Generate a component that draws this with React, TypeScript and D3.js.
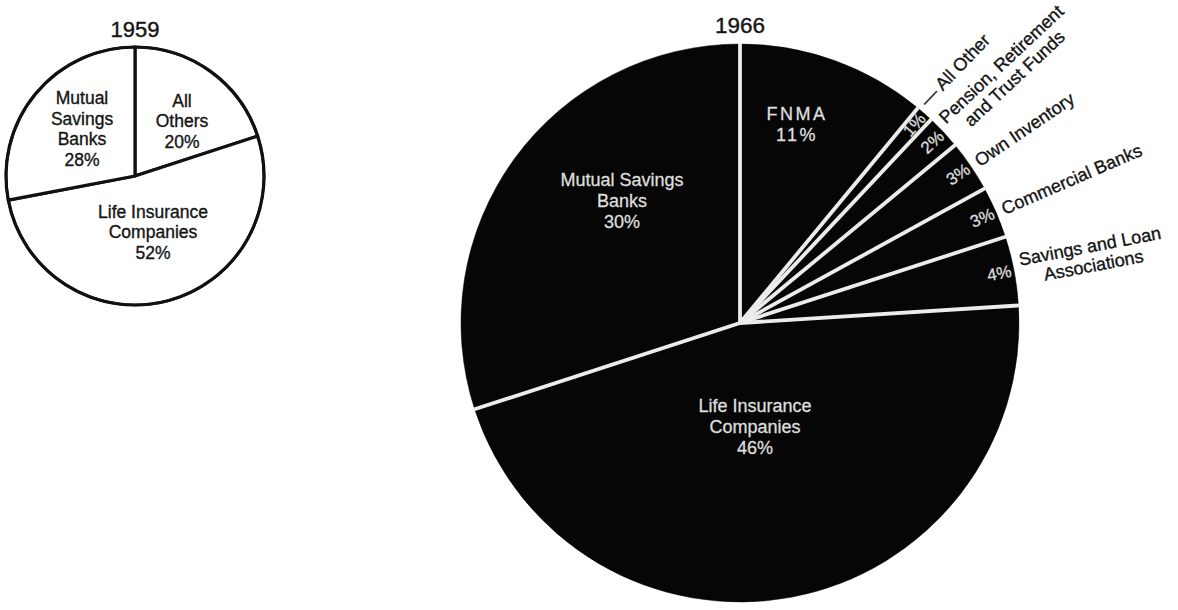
import React, { useEffect, useRef } from 'react';
import * as d3 from 'd3';

const W = 1178;
const H = 610;

// 1959 mortgage holders (clockwise from 12 o'clock)
const holders1959 = ['All Others', 'Life Insurance Companies', 'Mutual Savings Banks'];
const shares1959 = [20, 52, 28];
const labelLines1959 = [['All', 'Others'], ['Life Insurance', 'Companies'], ['Mutual', 'Savings', 'Banks']];

// 1966 mortgage holders (clockwise from 12 o'clock)
const holders1966 = [
  'FNMA',
  'All Other',
  'Pension, Retirement and Trust Funds',
  'Own Inventory',
  'Commercial Banks',
  'Savings and Loan Associations',
  'Life Insurance Companies',
  'Mutual Savings Banks',
];
const shares1966 = [11, 1, 2, 3, 3, 4, 46, 30];
const labelLines1966 = [
  ['FNMA'],
  ['— All Other'],
  ['Pension, Retirement', 'and Trust Funds'],
  ['Own Inventory'],
  ['Commercial Banks'],
  ['Savings and Loan', 'Associations'],
  ['Life Insurance', 'Companies'],
  ['Mutual Savings', 'Banks'],
];
// slices whose names sit outside the rim
const outsideLabels1966 = [false, true, true, true, true, true, false, false];

const titles = ['1959', '1966'];

const FONT = '"Liberation Sans", Arial, Helvetica, sans-serif';

// layout
const small = { cx: 135, cy: 176, r: 129 };
const big = { cx: 740, cy: 323, r: 279 };
// block centres of in-slice labels, relative to each pie centre
const smallLabelPos = [
  { x: 47, y: -55 },
  { x: 18, y: 56 },
  { x: -53, y: -47 },
];
const bigLabelPos: Record<number, { x: number; y: number }> = {
  0: { x: 57, y: -199 },
  6: { x: 15, y: 104 },
  7: { x: -118, y: -122 },
};
// small angular / rotation tweaks (degrees) for crowded outer names
const outerNudge: Record<number, { da: number; rot: number }> = {
  1: { da: -1.6, rot: 2.5 },
};

export default function App() {
  const ref = useRef<SVGSVGElement | null>(null);

  useEffect(() => {
    const svg = d3.select(ref.current);
    svg.selectAll('*').remove();

    const pie = d3
      .pie<number>()
      .sort(null)
      .value((d) => d);

    // ---------- 1959 ----------
    const g1 = svg.append('g').attr('transform', `translate(${small.cx},${small.cy})`);
    const arcs1 = pie(shares1959);
    const arc1 = d3.arc<d3.PieArcDatum<number>>().innerRadius(0).outerRadius(small.r);
    g1.selectAll('path.slice')
      .data(arcs1)
      .join('path')
      .attr('class', 'slice')
      .attr('d', arc1)
      .attr('fill', '#fff')
      .attr('stroke', '#111')
      .attr('stroke-width', 3.2)
      .attr('stroke-linejoin', 'round');
    g1.append('circle').attr('r', small.r).attr('fill', 'none').attr('stroke', '#111').attr('stroke-width', 2.6);

    arcs1.forEach((a, i) => {
      const lines = [...labelLines1959[i], `${shares1959[i]}%`];
      const p = smallLabelPos[i];
      const lh = 20.5;
      const t = g1
        .append('text')
        .attr('text-anchor', 'middle')
        .attr('font-family', FONT)
        .attr('font-size', 17.5)
        .attr('fill', '#151515')
        .attr('stroke', '#151515')
        .attr('stroke-width', 0.35);
      lines.forEach((ln, k) => {
        t.append('tspan')
          .attr('x', p.x)
          .attr('y', p.y + (k - (lines.length - 1) / 2) * lh + 6)
          .text(ln);
      });
    });

    svg
      .append('text')
      .attr('x', small.cx)
      .attr('y', 37)
      .attr('text-anchor', 'middle')
      .attr('font-family', FONT)
      .attr('font-size', 22)
      .attr('fill', '#151515')
      .attr('stroke', '#151515')
      .attr('stroke-width', 0.4)
      .text(titles[0]);

    // ---------- 1966 ----------
    const g2 = svg.append('g').attr('transform', `translate(${big.cx},${big.cy})`);
    const arcs2 = pie(shares1966);
    const arc2 = d3.arc<d3.PieArcDatum<number>>().innerRadius(0).outerRadius(big.r);
    g2.selectAll('path.slice')
      .data(arcs2)
      .join('path')
      .attr('class', 'slice')
      .attr('d', arc2)
      .attr('fill', '#060606')
      .attr('stroke', '#060606')
      .attr('stroke-width', 0.5);

    // white separators along each slice edge
    const boundaries = arcs2.map((a) => a.startAngle);
    g2.selectAll('line.sep')
      .data(boundaries)
      .join('line')
      .attr('class', 'sep')
      .attr('x1', 0)
      .attr('y1', 0)
      .attr('x2', (t) => Math.sin(t) * (big.r + 1))
      .attr('y2', (t) => -Math.cos(t) * (big.r + 1))
      .attr('stroke', '#ececec')
      .attr('stroke-width', 3.8);

    const deg = (rad: number) => (rad * 180) / Math.PI;
    const rad = (d: number) => (d * Math.PI) / 180;

    arcs2.forEach((a, i) => {
      const mid = (a.startAngle + a.endAngle) / 2;
      if (outsideLabels1966[i]) {
        // rotated percentage inside the thin slice
        const rp = big.r - 15;
        g2.append('text')
          .attr(
            'transform',
            `translate(${Math.sin(mid) * rp},${-Math.cos(mid) * rp}) rotate(${deg(mid) - 90})`
          )
          .attr('text-anchor', 'middle')
          .attr('dominant-baseline', 'central')
          .attr('font-family', FONT)
          .attr('font-size', 17)
          .attr('fill', '#dcdcdc')
          .attr('stroke', '#dcdcdc')
          .attr('stroke-width', 0.3)
          .text(`${shares1966[i]}%`);

        // rotated name outside the rim
        const nudge = outerNudge[i] || { da: 0, rot: 0 };
        const ang = mid + rad(nudge.da);
        const ro = big.r + 7;
        const lines = labelLines1966[i];
        const lg = g2
          .append('g')
          .attr(
            'transform',
            `translate(${Math.sin(ang) * ro},${-Math.cos(ang) * ro}) rotate(${deg(mid) - 90 + nudge.rot})`
          )
          .attr('font-family', FONT)
          .attr('font-size', 18)
          .attr('fill', '#141414')
          .attr('stroke', '#141414')
          .attr('stroke-width', 0.35);
        const lh = 19.5;
        const first = lg
          .append('text')
          .attr('x', 0)
          .attr('y', lines.length === 1 ? 0 : -lh / 2)
          .attr('dominant-baseline', 'central')
          .text(lines[0]);
        const w = (first.node() as SVGTextElement).getComputedTextLength();
        lines.slice(1).forEach((ln, k) => {
          lg.append('text')
            .attr('x', w / 2)
            .attr('y', -lh / 2 + (k + 1) * lh)
            .attr('text-anchor', 'middle')
            .attr('dominant-baseline', 'central')
            .text(ln);
        });
      } else {
        const p = bigLabelPos[i];
        const lines = [...labelLines1966[i], `${shares1966[i]}%`];
        const lh = 21;
        const t = g2
          .append('text')
          .attr('text-anchor', 'middle')
          .attr('font-family', FONT)
          .attr('font-size', 18)
          .attr('fill', '#dedede')
          .attr('stroke', '#dedede')
          .attr('stroke-width', 0.3)
          .attr('letter-spacing', i === 0 ? 2.5 : 0);
        lines.forEach((ln, k) => {
          t.append('tspan')
            .attr('x', p.x)
            .attr('y', p.y + (k - (lines.length - 1) / 2) * lh + 6)
            .text(ln);
        });
      }
    });

    svg
      .append('text')
      .attr('x', big.cx)
      .attr('y', 33)
      .attr('text-anchor', 'middle')
      .attr('font-family', FONT)
      .attr('font-size', 22.5)
      .attr('fill', '#151515')
      .attr('stroke', '#151515')
      .attr('stroke-width', 0.4)
      .text(titles[1]);
  }, []);

  return (
    <svg
      ref={ref}
      width={W}
      height={H}
      viewBox={`0 0 ${W} ${H}`}
      style={{ position: 'absolute', left: 0, top: 0, background: '#fff', display: 'block' }}
    />
  );
}
